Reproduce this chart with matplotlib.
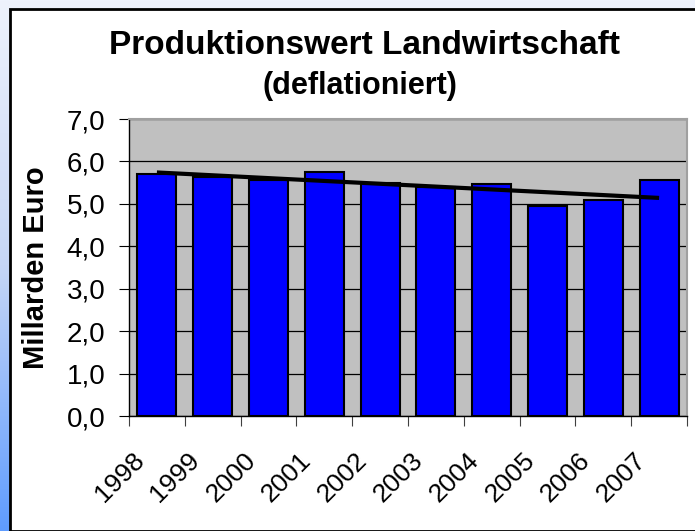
# Produktionswert Landwirtschaft (deflationiert), Balken mit Trendlinie
import numpy as np
import matplotlib.pyplot as plt
from matplotlib.colors import LinearSegmentedColormap

plt.rcParams['font.family'] = ['Liberation Sans', 'DejaVu Sans']

# Daten
years = ['1998', '1999', '2000', '2001', '2002', '2003', '2004', '2005', '2006', '2007']
values = [5.70, 5.64, 5.57, 5.75, 5.48, 5.40, 5.46, 4.94, 5.08, 5.56]
trend_ends = [5.74, 5.14]
y_ticks = [0, 1, 2, 3, 4, 5, 6, 7]
y_tick_labels = ['0,0', '1,0', '2,0', '3,0', '4,0', '5,0', '6,0', '7,0']

fig = plt.figure(figsize=(6.95, 5.31), dpi=100)

# Hintergrund: blauer Verlauf
bg = fig.add_axes([0, 0, 1, 1])
cmap = LinearSegmentedColormap.from_list('bg', ['#eef2fc', '#c6d6f6', '#5f9cff'])
grad = np.linspace(0, 1, 256).reshape(-1, 1)
bg.imshow(grad, aspect='auto', cmap=cmap, extent=[0, 1, 0, 1])
bg.add_patch(plt.Rectangle((10 / 695, 0), 1, 1 - 9 / 531, facecolor='white',
                           edgecolor='black', linewidth=2))
bg.set_xlim(0, 1)
bg.set_ylim(0, 1)
bg.axis('off')

ax = fig.add_axes([129 / 695, 1 - 416 / 531, 558 / 695, 297 / 531])
ax.set_facecolor('#c0c0c0')
x = np.arange(len(years))
ax.bar(x, values, width=0.7, color='#0000ff', edgecolor='black', linewidth=1.5, zorder=3)
ax.plot([x[0], x[-1]], trend_ends, color='black', linewidth=3.0, zorder=4,
        solid_capstyle='butt')

ax.set_xlim(-0.5, len(years) - 0.5)
ax.set_ylim(0, 7)
ax.set_yticks(y_ticks)
ax.set_yticklabels(y_tick_labels, fontsize=20)
ax.yaxis.grid(True, color='black', linewidth=0.9, zorder=1)
ax.set_axisbelow(True)

# Hauptstriche an den Kategoriegrenzen, Jahreszahlen etwas links der Mitte (wie Excel)
ax.set_xticks(np.arange(-0.5, len(years), 1.0))
ax.set_xticklabels([])
ax.set_xticks(x - 0.3, minor=True)
ax.set_xticklabels(years, minor=True, fontsize=19, rotation=45, ha='right',
                   va='center', rotation_mode='anchor')
ax.tick_params(axis='x', which='minor', length=0, pad=29)
ax.tick_params(axis='x', which='major', length=7, color='#404040')
ax.tick_params(axis='y', length=7, color='black', pad=10)

for s in ['top', 'right']:
    ax.spines[s].set_color('#a0a0a0')
    ax.spines[s].set_linewidth(1.5)
for s in ['left', 'bottom']:
    ax.spines[s].set_color('black')
    ax.spines[s].set_linewidth(1.0)

ax.set_ylabel('Millarden Euro', fontsize=21, fontweight='bold')
ax.yaxis.set_label_coords(-79 / 558, 0.5)

fig.text(365 / 695, 1 - 45 / 531, 'Produktionswert Landwirtschaft', fontsize=24,
         fontweight='bold', ha='center', va='center')
fig.text(360 / 695, 1 - 86 / 531, '(deflationiert)', fontsize=22,
         fontweight='bold', ha='center', va='center')

fig.savefig('out.png', dpi=100)
